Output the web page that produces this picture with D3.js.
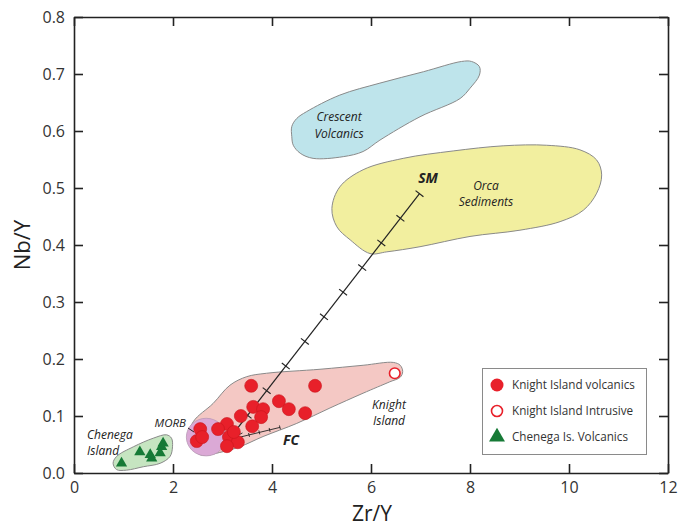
<!DOCTYPE html>
<html><head><meta charset="utf-8">
<script src="https://cdn.jsdelivr.net/npm/d3@7"></script>
<style>
body{margin:0;background:#fff;}
svg{display:block;font-family:"Open Sans","Noto Sans",sans-serif;}
</style></head>
<body>
<svg id="chart" width="681" height="529"></svg>
<script>
// ---- data ----
const xTicks = [0,2,4,6,8,10,12];
const yTicks = [0,0.1,0.2,0.3,0.4,0.5,0.6,0.7,0.8];
const yTickLabels = ["0.0","0.1","0.2","0.3","0.4","0.5","0.6","0.7","0.8"];

const knightVolcanics = [
 [3.58,0.153],[4.87,0.153],[4.14,0.126],[4.34,0.112],[4.67,0.105],[3.62,0.116],
 [3.82,0.112],[3.78,0.098],[3.37,0.100],[3.60,0.082],[3.09,0.086],[2.91,0.077],
 [2.55,0.077],[2.48,0.056],[2.59,0.063],[3.13,0.063],[3.31,0.054],[3.09,0.047],[3.23,0.072]
];
const knightIntrusive = [[6.48,0.175]];
const chenegaVolcanics = [
 [0.96,0.017],[1.33,0.037],[1.54,0.032],[1.57,0.026],[1.74,0.035],[1.77,0.046],[1.80,0.052]
];

const crescentField = [
 [4.40,0.608],[4.50,0.622],[4.70,0.634],[5.37,0.663],[6.18,0.684],[7.06,0.704],[7.83,0.722],
 [8.03,0.722],[8.19,0.713],[8.19,0.698],[8.00,0.675],[7.80,0.657],[6.99,0.625],[6.18,0.584],
 [5.84,0.564],[5.44,0.555],[4.83,0.552],[4.57,0.561],[4.43,0.575],[4.40,0.590]
];
const orcaField = [
 [5.21,0.464],[5.37,0.502],[5.84,0.532],[6.65,0.552],[7.66,0.565],[8.67,0.574],[9.55,0.575],
 [10.22,0.567],[10.56,0.549],[10.66,0.523],[10.56,0.491],[10.29,0.461],[9.82,0.441],[9.01,0.426],
 [8.00,0.415],[6.99,0.397],[6.32,0.388],[5.98,0.385],[5.58,0.409],[5.31,0.432]
];
const knightField = [
 [2.41,0.090],[2.81,0.122],[3.15,0.154],[3.49,0.169],[3.89,0.175],[4.97,0.182],[5.84,0.189],
 [6.45,0.194],[6.59,0.189],[6.64,0.178],[6.59,0.168],[6.38,0.160],[5.84,0.140],[5.17,0.114],
 [4.50,0.087],[3.82,0.064],[3.35,0.046],[2.99,0.037],[2.55,0.032],[2.30,0.058]
];
const chenegaField = [
 [0.79,0.017],[0.86,0.029],[1.20,0.046],[1.60,0.061],[1.87,0.067],[1.97,0.061],
 [1.99,0.046],[1.94,0.029],[1.74,0.017],[1.40,0.011],[1.06,0.005],[0.86,0.006]
];
const morbField = {cx:2.67, cy:0.063, rx:0.40, ry:0.033};

const smLine = [[3.12,0.058],[6.98,0.490]];
const smTicks = [0.1,0.2,0.3,0.4,0.5,0.6,0.7,0.8,0.9,1.0];
const fcLine = [[3.12,0.058],[4.16,0.080]];
const fcTicks = [0.2,0.4,0.6,0.8,1.0];

const legendItems = ["Knight Island volcanics","Knight Island Intrusive","Chenega Is. Volcanics"];

// ---- chart ----
const svg = d3.select("#chart");
const x = d3.scaleLinear().domain([0,12]).range([74,668]);
const y = d3.scaleLinear().domain([0,0.8]).range([473,17]);

const fields = svg.append("g");
const smooth = d3.line().x(d=>x(d[0])).y(d=>y(d[1])).curve(d3.curveCatmullRomClosed.alpha(0.5));

function field(pts, fill){
  fields.append("path").attr("d", smooth(pts)).attr("fill", fill)
    .attr("stroke","#8a8a8a").attr("stroke-width",1);
}
field(crescentField, "#bee4eb");
field(orcaField, "#f2ef9f");
field(knightField, "#f4c8c4");
field(chenegaField, "#c6e5c1");
fields.append("ellipse")
  .attr("cx", x(morbField.cx)).attr("cy", y(morbField.cy))
  .attr("rx", x(morbField.cx+morbField.rx)-x(morbField.cx))
  .attr("ry", y(morbField.cy-morbField.ry)-y(morbField.cy))
  .attr("fill","#dba9d6").attr("stroke","#b99ab6").attr("stroke-width",0.8);

// axes frame
const ax = svg.append("g");
ax.append("g").attr("transform",`translate(0,${y(0)})`)
  .call(d3.axisBottom(x).tickValues(xTicks).tickSizeInner(-9).tickSizeOuter(0).tickPadding(9).tickFormat(d3.format("d")));
ax.append("g").attr("transform",`translate(0,${y(0.8)})`)
  .call(d3.axisTop(x).tickValues(xTicks).tickSizeInner(-9).tickSizeOuter(0).tickFormat(""));
ax.append("g").attr("transform",`translate(${x(0)},0)`)
  .call(d3.axisLeft(y).tickValues(yTicks).tickSizeInner(-9).tickSizeOuter(0).tickPadding(9).tickFormat((d,i)=>yTickLabels[i]));
ax.append("g").attr("transform",`translate(${x(12)},0)`)
  .call(d3.axisRight(y).tickValues(yTicks).tickSizeInner(-9).tickSizeOuter(0).tickFormat(""));
ax.selectAll(".domain").attr("stroke","#222").attr("stroke-width",1.6);
ax.selectAll(".tick line").attr("stroke","#222").attr("stroke-width",1.6);
ax.selectAll(".tick text").attr("font-size",16).attr("fill","#333").attr("font-family","Open Sans, sans-serif");

svg.append("text").attr("x",372).attr("y",521).attr("text-anchor","middle")
  .attr("font-size",21).attr("fill","#222").text("Zr/Y");
svg.append("text").attr("transform","translate(30,245) rotate(-90)").attr("text-anchor","middle")
  .attr("font-size",22).attr("fill","#222").text("Nb/Y");

// mixing lines
const lines = svg.append("g").attr("stroke","#222").attr("fill","none");
function mixLine(seg, ticks, tlen, sw){
  const [a,b] = seg;
  const x1=x(a[0]), y1=y(a[1]), x2=x(b[0]), y2=y(b[1]);
  lines.append("line").attr("x1",x1).attr("y1",y1).attr("x2",x2).attr("y2",y2).attr("stroke-width",sw);
  const L = Math.hypot(x2-x1,y2-y1), ux=(x2-x1)/L, uy=(y2-y1)/L, nx=-uy, ny=ux;
  ticks.forEach(f=>{
    const px=x1+(x2-x1)*f, py=y1+(y2-y1)*f;
    lines.append("line").attr("x1",px-nx*tlen).attr("y1",py-ny*tlen)
      .attr("x2",px+nx*tlen).attr("y2",py+ny*tlen).attr("stroke-width",sw);
  });
}
mixLine(smLine, smTicks, 5, 1.2);
mixLine(fcLine, fcTicks, 2, 0.9);
// small arrow at origin
lines.append("line").attr("x1",x(fcLine[0][0])).attr("y1",y(fcLine[0][1]))
  .attr("x2",x(fcLine[0][0])+14).attr("y2",y(fcLine[0][1])-7).attr("stroke-width",0.9);

// MORB leader
svg.append("line").attr("x1",188).attr("y1",428).attr("x2",194).attr("y2",432)
  .attr("stroke","#222").attr("stroke-width",1);

// points
const pts = svg.append("g");
pts.selectAll("circle.kv").data(knightVolcanics).join("circle").attr("class","kv")
  .attr("cx",d=>x(d[0])).attr("cy",d=>y(d[1])).attr("r",6.5)
  .attr("fill","#e8202a").attr("stroke","#c8151d").attr("stroke-width",0.6);
pts.selectAll("circle.ki").data(knightIntrusive).join("circle").attr("class","ki")
  .attr("cx",d=>x(d[0])).attr("cy",d=>y(d[1])).attr("r",5.3)
  .attr("fill","#fff").attr("stroke","#e8202a").attr("stroke-width",1.6);
const tri = d3.symbol().type(d3.symbolTriangle).size(55);
pts.selectAll("path.cv").data(chenegaVolcanics).join("path").attr("class","cv")
  .attr("d",tri).attr("transform",d=>`translate(${x(d[0])},${y(d[1])})`)
  .attr("fill","#167a36");

// labels
const lab = svg.append("g").attr("fill","#222").attr("font-style","italic").attr("font-size",12);
function label(t, px, py, anchor, opts={}){
  const e = lab.append("text").attr("x",px).attr("y",py).attr("text-anchor",anchor||"middle").text(t);
  if(opts.bold) e.attr("font-weight","bold");
  if(opts.size) e.attr("font-size",opts.size);
  return e;
}
label("Crescent",339,121);
label("Volcanics",339,137.5);
label("Orca",486,189.5);
label("Sediments",486,206);
label("SM",428,183,"middle",{bold:true,size:14});
label("Knight",389,408.5);
label("Island",389,425);
label("FC",291,445,"middle",{bold:true,size:14});
label("MORB",186,427,"end",{size:11.5});
label("Chenega",87,438.5,"start");
label("Island",87,455,"start");

// legend
const lg = svg.append("g");
lg.append("rect").attr("x",482.5).attr("y",368.5).attr("width",164).attr("height",86)
  .attr("fill","#fff").attr("stroke","#8a8a8a").attr("stroke-width",1);
const lgY = [385,411,437];
lg.append("circle").attr("cx",497).attr("cy",lgY[0]).attr("r",6.5).attr("fill","#e8202a");
lg.append("circle").attr("cx",497).attr("cy",lgY[1]).attr("r",5.5).attr("fill","#fff").attr("stroke","#e8202a").attr("stroke-width",1.6);
lg.append("path").attr("d",d3.symbol().type(d3.symbolTriangle).size(110)).attr("transform",`translate(497,${lgY[2]})`).attr("fill","#167a36");
lg.selectAll("text").data(legendItems).join("text")
  .attr("x",512).attr("y",(d,i)=>lgY[i]+4).attr("font-size",11.7).attr("fill","#333").text(d=>d);
</script>
</body></html>
